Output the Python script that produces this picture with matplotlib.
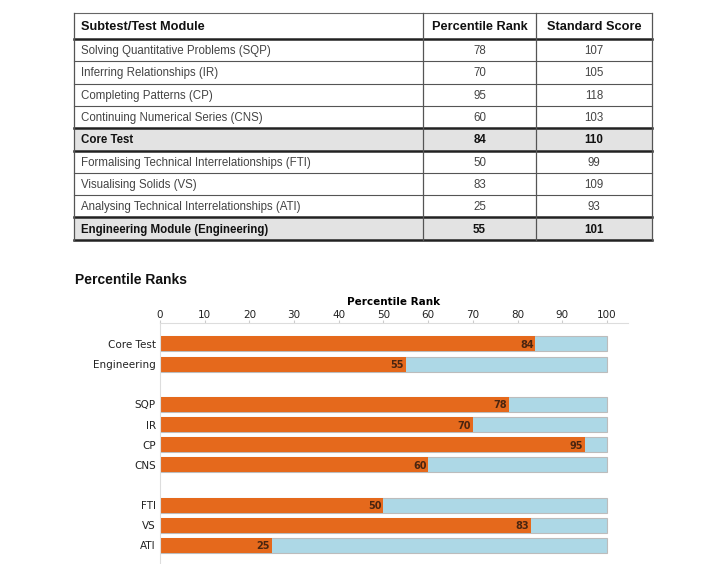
import matplotlib.pyplot as plt

# table data
row_names = ['Solving Quantitative Problems (SQP)', 'Inferring Relationships (IR)',
             'Completing Patterns (CP)', 'Continuing Numerical Series (CNS)',
             'Core Test', 'Formalising Technical Interrelationships (FTI)',
             'Visualising Solids (VS)', 'Analysing Technical Interrelationships (ATI)',
             'Engineering Module (Engineering)']
pct_rank = [78, 70, 95, 60, 84, 50, 83, 25, 55]
std_score = [107, 105, 118, 103, 110, 99, 109, 93, 101]
total_rows = [4, 8]   # bold, shaded rows

# chart data
bar_labels = ['Core Test', 'Engineering', 'SQP', 'IR', 'CP', 'CNS', 'FTI', 'VS', 'ATI']
bar_values = [84, 55, 78, 70, 95, 60, 50, 83, 25]
bar_pos = [0, 1, 3, 4, 5, 6, 8, 9, 10]

orange = '#e5691c'
light_blue = '#add8e6'

fig = plt.figure(figsize=(7.18, 5.64), dpi=100)

# ---- table, drawn in pixel coordinates ----
tax = fig.add_axes([0, 0, 1, 1])
tax.set_xlim(0, 718)
tax.set_ylim(564, 0)
tax.axis('off')

cols = [74, 423, 536, 652]
top = 13
head_h = 26
row_h = 22.3
tfont = 'Liberation Sans'

row_tops = [top + head_h + i * row_h for i in range(len(row_names))]
bottom = row_tops[-1] + row_h

for i in total_rows:
    tax.add_patch(plt.Rectangle((cols[0], row_tops[i]), cols[-1] - cols[0], row_h,
                                facecolor='#e3e3e3', edgecolor='none'))

headers = ['Subtest/Test Module', 'Percentile Rank', 'Standard Score']
ty = top + head_h / 2 + 1
tax.text(cols[0] + 7, ty, headers[0], fontsize=9.2, fontweight='bold', family=tfont,
         va='center', ha='left', color='#111111')
for j in (1, 2):
    tax.text((cols[j] + cols[j + 1]) / 2, ty, headers[j], fontsize=9.2, fontweight='bold',
             family=tfont, va='center', ha='center', color='#111111')

for i, name in enumerate(row_names):
    yc = row_tops[i] + row_h / 2 + 1
    bold = i in total_rows
    fw = 'bold' if bold else 'normal'
    c = '#111111' if bold else '#444444'
    tax.text(cols[0] + 7, yc, name, fontsize=8.3, fontweight=fw, family=tfont,
             va='center', ha='left', color=c)
    tax.text((cols[1] + cols[2]) / 2, yc, str(pct_rank[i]), fontsize=8.3, fontweight=fw,
             family=tfont, va='center', ha='center', color=c)
    tax.text((cols[2] + cols[3]) / 2, yc, str(std_score[i]), fontsize=8.3, fontweight=fw,
             family=tfont, va='center', ha='center', color=c)

# horizontal lines
tax.plot([cols[0], cols[-1]], [top, top], color='#666666', lw=0.8)
thick = {0, 4, 5, 8, 9}
for i in range(len(row_names) + 1):
    y = row_tops[i] if i < len(row_names) else bottom
    lw = 1.8 if i in thick else 0.8
    col = '#222222' if i in thick else '#555555'
    tax.plot([cols[0], cols[-1]], [y, y], color=col, lw=lw)
for x in cols:
    tax.plot([x, x], [top, bottom], color='#555555', lw=0.9)

tax.text(75, 280, 'Percentile Ranks', fontsize=10, fontweight='bold', family=tfont,
         va='center', ha='left', color='#111111')

# ---- bar chart ----
ax = fig.add_axes([160 / 718, -6 / 564, 468 / 718, 247 / 564])
ax.barh(bar_pos, [100] * len(bar_pos), height=0.74, color=light_blue,
        edgecolor='#bcbcbc', linewidth=0.8)
ax.barh(bar_pos, bar_values, height=0.74, color=orange, edgecolor='none')
for p, v in zip(bar_pos, bar_values):
    ax.text(v - 0.4, p + 0.05, str(v), fontsize=7, fontweight='bold', ha='right',
            va='center', color='#4a2510')

ax.set_xlim(0, 104.7)
ax.set_ylim(11.22, -1.04)
ax.set_yticks(bar_pos)
ax.set_yticklabels(bar_labels, fontsize=7.5, color='#222222')
ax.set_xticks(range(0, 101, 10))
ax.xaxis.tick_top()
ax.xaxis.set_label_position('top')
ax.tick_params(axis='x', labelsize=7.5, length=2, color='#cccccc', pad=0.5,
               labelcolor='#222222')
ax.tick_params(axis='y', length=0, pad=3)
ax.set_xlabel('Percentile Rank', fontsize=7.5, fontweight='bold', labelpad=3)
for s in ('right', 'bottom'):
    ax.spines[s].set_visible(False)
for s in ('top', 'left'):
    ax.spines[s].set_color('#dddddd')
    ax.spines[s].set_linewidth(0.8)

fig.savefig('out.png', dpi=100)
